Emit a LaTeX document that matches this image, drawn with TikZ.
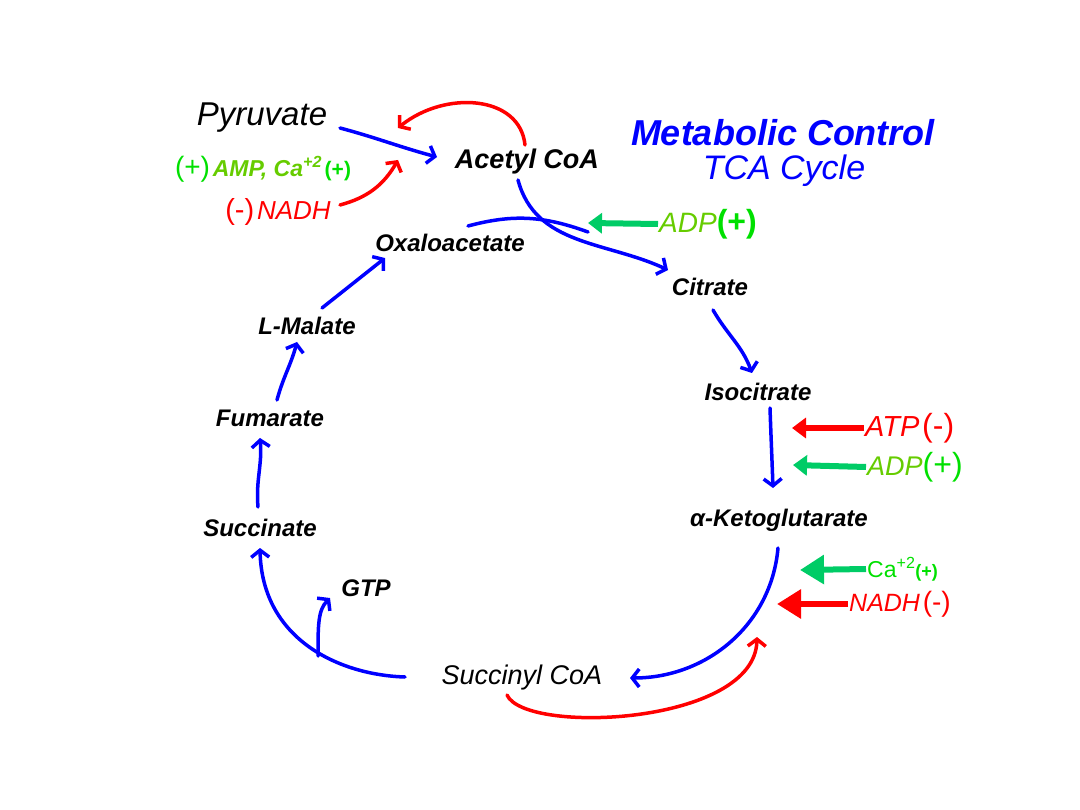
\documentclass[tikz,border=0pt]{standalone}
\usepackage{fontspec}
\setmainfont{Liberation Sans}
\usetikzlibrary{arrows.meta, positioning}
\definecolor{TCAblue}{RGB}{0,0,255}
\definecolor{TCAred}{RGB}{255,0,0}
\definecolor{TCAgreen}{RGB}{0,204,102}
\definecolor{TCAlime}{RGB}{102,204,0}
\definecolor{TCAbright}{RGB}{0,224,0}
\newcommand{\fs}[1]{\fontsize{#1}{#1}\selectfont}

\begin{document}
\begin{tikzpicture}[x=1pt, y=-1pt,
   metab/.style={font=\fs{24}\bfseries\itshape, inner sep=1pt},
   cycarrow/.style={TCAblue, line width=3.5pt, line cap=round,
      -{Straight Barb[length=7pt, width=18pt]}},
   feedarrow/.style={TCAred, line width=3.5pt, line cap=round,
      -{Straight Barb[length=7pt, width=18pt]}},
   effarrow/.style={line width=6pt, -{Triangle[length=14pt, width=20pt]}},
   bigeffarrow/.style={line width=6pt, -{Triangle[length=24pt, width=28pt]}},
   effnode/.style={inner sep=1pt, anchor=west}
]
   \useasboundingbox (0,0) rectangle (1080,810);
   % title
   \node[TCAblue, font=\fs{36}\bfseries\itshape] (title) at (783,133) {Metabolic Control};
   \node[TCAblue, font=\fs{34}\itshape] (subtitle) at (784,171) {TCA Cycle};
   % intermediates
   \node[font=\fs{33}\itshape, inner sep=1pt] (pyruvate) at (262,118) {Pyruvate};
   \node[metab, font=\fs{27}\bfseries\itshape] (acetyl) at (527,162) {Acetyl CoA};
   \node[metab] (oxa) at (450,243) {Oxaloacetate};
   \node[metab] (citrate) at (710,287) {Citrate};
   \node[metab] (isocit) at (758,392) {Isocitrate};
   \node[metab] (akg) at (779,520) {α-Ketoglutarate};
   \node[metab, font=\fs{27}\itshape] (succoa) at (522,678) {Succinyl CoA};
   \node[metab] (succ) at (260,528) {Succinate};
   \node[metab] (fum) at (270,418) {Fumarate};
   \node[metab] (malate) at (307,326) {L-Malate};
   \node[metab] (gtp) at (366,588) {GTP};
   % effectors
   \node[inner sep=1pt] (amp) at (263,169) {{\fs{28}\color{TCAbright}(+)}
      {\fs{23}\bfseries\itshape\color{TCAlime}AMP, Ca\textsuperscript{+2}}
      {\fs{21}\bfseries\color{TCAbright}(+)}};
   \node[inner sep=1pt] (nadha) at (278,212) {{\fs{29}\color{TCAred}(-)}
      {\fs{26}\itshape\color{TCAred}NADH}};
   \node[effnode] (adpa) at (658,224) {{\fs{28}\itshape\color{TCAlime}ADP}%
      {\fs{32}\bfseries\color{TCAbright}(+)}};
   \node[effnode] (atp) at (864,428) {{\fs{29}\itshape\color{TCAred}ATP}
      {\fs{32}\color{TCAred}(-)}};
   \node[effnode] (adpb) at (866,467) {{\fs{27}\itshape\color{TCAlime}ADP}%
      {\fs{32}\color{TCAbright}(+)}};
   \node[effnode] (ca) at (866,569) {{\fs{23}\color{TCAbright}Ca\textsuperscript{+2}}%
      {\fs{18}\bfseries\color{TCAbright}(+)}};
   \node[effnode] (nadhb) at (848,604) {{\fs{25}\itshape\color{TCAred}NADH}
      {\fs{28}\color{TCAred}(-)}};
   % control points
   \coordinate (pdhtop) at (398,128);
   \coordinate (pdhbot) at (398,160);
   \coordinate (merge) at (588,232);
   \coordinate (cs) at (588,223);
   \coordinate (idha) at (792,428);
   \coordinate (idhb) at (793,465);
   \coordinate (kga) at (800,570);
   \coordinate (kgb) at (777,604);
   \coordinate (kgdh) at (757,637);
   \coordinate (gtpfork) at (318,656);
   % pyruvate dehydrogenase
   \draw[cycarrow] ([shift={(78,10)}]pyruvate.center) to[out=-15,in=165] ([shift={(-90,-5)}]acetyl.center);
   \draw[feedarrow] ([shift={(-2,-17)}]acetyl.center) .. controls (520,95) and (445,90) .. (pdhtop);
   \draw[feedarrow] ([shift={(62,-7)}]nadha.center) to[out=15,in=-120] (pdhbot);
   % cycle
   \draw[cycarrow] ([shift={(-9,18)}]acetyl.center) to[out=-75,in=155] ([shift={(-42,-17)}]citrate.center);
   \draw[TCAblue, line width=3.5pt, line cap=round] ([shift={(18,-17)}]oxa.center) to[out=15,in=160] (merge);
   \draw[TCAgreen, effarrow] (adpa.west) -- (cs);
   \draw[cycarrow] ([shift={(3,23)}]citrate.center) to[out=-60,in=110] ([shift={(-6,-19)}]isocit.center);
   \draw[cycarrow] ([shift={(12,16)}]isocit.center) to[out=-88,in=92] ([shift={(-6,-32)}]akg.center);
   \draw[TCAred, effarrow] (atp.west) -- (idha);
   \draw[TCAgreen, effarrow] (adpb.west) -- (idhb);
   \draw[cycarrow] ([shift={(-1,28)}]akg.center) to[out=-95,in=0] ([shift={(108,0)}]succoa.center);
   \draw[TCAgreen, bigeffarrow] (ca.west) -- (kga);
   \draw[TCAred, bigeffarrow] (nadhb.west) -- (kgb);
   \draw[feedarrow] ([shift={(-15,17)}]succoa.center) .. controls (525,735) and (755,725) .. (kgdh);
   \draw[cycarrow] ([shift={(-117,-1)}]succoa.center) .. controls (340,675) and (262,640) .. ([shift={(0,20)}]succ.center);
   \draw[cycarrow] (gtpfork) .. controls (318,625) and (318,610) .. ([shift={(-36,10)}]gtp.center);
   \draw[cycarrow] ([shift={(-2,-21)}]succ.center) to[out=95,in=-85] ([shift={(-10,20)}]fum.center);
   \draw[cycarrow] ([shift={(7,-18)}]fum.center) to[out=75,in=-105] ([shift={(-10,16)}]malate.center);
   \draw[cycarrow] ([shift={(15,-18)}]malate.center) -- ([shift={(-65,15)}]oxa.center);
\end{tikzpicture}
\end{document}
